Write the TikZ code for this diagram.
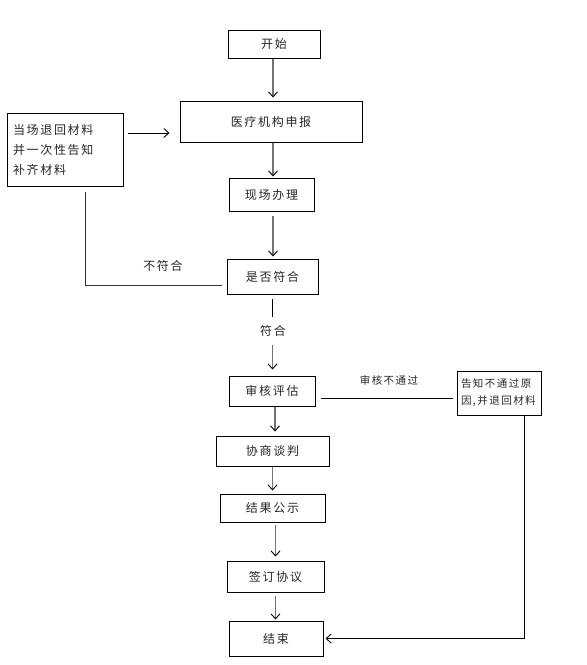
\documentclass[tikz,border=0pt]{standalone}
\usepackage{fontspec}
\newfontfamily\cjk{Noto Sans CJK SC}[LetterSpace=14]
\usetikzlibrary{arrows.meta}
\begin{document}
\begin{tikzpicture}[x=1pt,y=-1pt,
  box/.style={draw=black,line width=1pt,minimum width=#1,inner sep=0pt,font=\cjk\fontsize{12}{14}\selectfont,text=black!85},
  conn/.style={draw=black!55,line width=1.3pt},
  arr/.style={conn,-{Straight Barb[length=5pt,width=9pt,line width=0.9pt,black]}},
  lab/.style={font=\cjk\fontsize{12}{14}\selectfont,text=black!85}]
\useasboundingbox (0,0) rectangle (587,665);
% nodes
\node[box=92pt,minimum height=28pt] (start) at (274,44) {开始};
\node[box=182pt,minimum height=41pt] (apply) at (271,121.5) {医疗机构申报};
\node[box=116pt,minimum height=73pt,align=left,text width=104pt,font=\cjk\fontsize{12}{20}\selectfont] (ret) at (65,149.5) {当场退回材料\\并一次性告知\\补齐材料};
\node[box=85pt,minimum height=33pt] (onsite) at (271.5,194.5) {现场办理};
\node[box=91pt,minimum height=35pt] (check) at (272.5,276.5) {是否符合};
\node[box=86pt,minimum height=30pt] (review) at (272,391) {审核评估};
\node[box=84pt,minimum height=44pt,align=left,text width=76pt,font=\cjk\fontsize{10.5}{17}\selectfont] (notify) at (499,393) {告知不通过原\\因,并退回材料};
\node[box=113pt,minimum height=30pt] (nego) at (272.5,451) {协商谈判};
\node[box=105pt,minimum height=28pt] (pub) at (272.5,508) {结果公示};
\node[box=97pt,minimum height=31pt] (sign) at (275.5,576.5) {签订协议};
\node[box=94pt,minimum height=35pt] (end) at (276,638.5) {结束};
% labels
\node[lab] (l1) at (163,266) {不符合};
\node[lab] (l2) at (273,331) {符合};
\node[lab,font=\cjk\fontsize{10.5}{12}\selectfont] (l3) at (389,380) {审核不通过};
% coordinates
\coordinate (c1) at (85,285.5);
\coordinate (c2) at (524,638.5);
% connectors
\draw[arr] ([xshift=-1pt]start.south) -- ([xshift=-1pt,yshift=3pt]start.south |- apply.north);
\draw[arr,draw=black,line width=1pt] ([xshift=4pt,yshift=16.5pt]ret.east) -- ([xshift=-10pt,yshift=-11.5pt]apply.west);
\draw[arr] ([xshift=2pt]apply.south) -- ([xshift=2pt,yshift=1pt]apply.south |- onsite.north);
\draw[arr] ([xshift=1.5pt,yshift=-4pt]onsite.south) -- ([xshift=1.5pt,yshift=2pt]onsite.south |- check.north);
\draw[conn,draw=black!80,line width=1pt] ([xshift=-5pt,yshift=-9pt]check.west) -- (c1) -- ([yshift=-5pt]c1 |- ret.south);
\draw[conn,draw=black,line width=1pt] ([yshift=-4pt]check.south) -- ([yshift=-22pt]check.south);
\draw[arr] ([yshift=-50pt]check.south) -- ([yshift=6pt]check.south |- review.north);
\draw[conn,draw=black,line width=1pt] ([xshift=5pt,yshift=-7pt]review.east) -- ([xshift=-4pt,yshift=-7pt]review.east -| notify.west);
\draw[arr] ([xshift=3pt]review.south) -- ([xshift=3pt,yshift=4pt]review.south |- nego.north);
\draw[arr] (nego.south) -- ([yshift=3pt]nego.south |- pub.north);
\draw[arr] ([xshift=3pt,yshift=-2pt]pub.south) -- ([xshift=3pt,yshift=4pt]pub.south |- sign.north);
\draw[arr] ([yshift=-3pt]sign.south) -- ([yshift=1pt]sign.south |- end.north);
\draw[arr,draw=black,line width=1pt] ([xshift=25pt]notify.south) -- (c2) -- ([xshift=2pt]end.east);
\end{tikzpicture}
\end{document}
